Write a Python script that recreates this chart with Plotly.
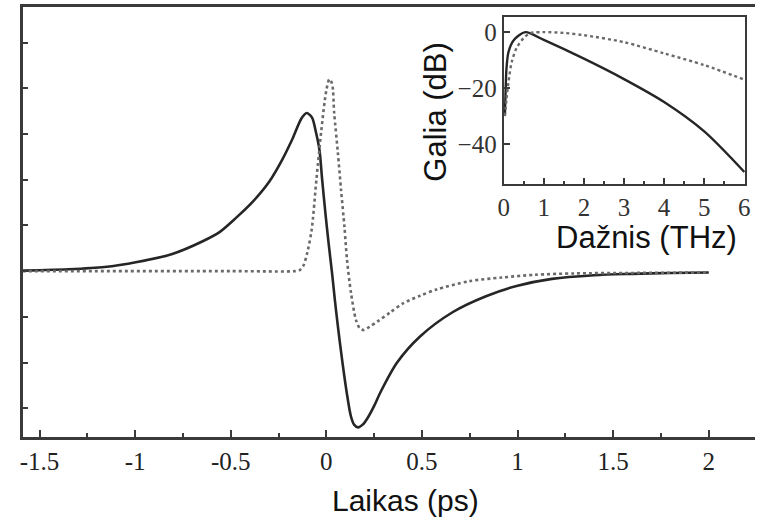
import plotly.graph_objects as go

# Main panel: time (ps) vs. signal (arb. units, tick spacing = 1)
t_solid = [-1.588, -1.5, -1.35, -1.16, -0.99, -0.81, -0.644, -0.557, -0.474, -0.387, -0.30,
           -0.232, -0.18, -0.129, -0.103, -0.075, -0.055, -0.036, -0.022, -0.005, 0.012,
           0.03, 0.045, 0.06, 0.078, 0.094, 0.11, 0.128, 0.145, 0.166, 0.19, 0.215, 0.25,
           0.283, 0.37, 0.49, 0.66, 0.835, 1.0, 1.18, 1.4, 1.6, 1.8, 2.0]
y_solid = [0.01, 0.02, 0.04, 0.09, 0.2, 0.37, 0.66, 0.86, 1.16, 1.51, 1.95,
           2.43, 2.87, 3.35, 3.46, 3.36, 3.05, 2.65, 2.0, 1.27, 0.6,
           -0.05, -0.65, -1.2, -1.8, -2.3, -2.75, -3.17, -3.36, -3.42, -3.36, -3.22, -2.95,
           -2.65, -2.0, -1.43, -0.9, -0.55, -0.32, -0.17, -0.09, -0.06, -0.04, -0.03]

t_dot = [-1.588, -0.5, -0.16, -0.14, -0.12, -0.1, -0.077, -0.052, -0.026, 0.0, 0.016, 0.03,
         0.041, 0.06, 0.077, 0.095, 0.108, 0.129, 0.155, 0.175, 0.196, 0.225, 0.268, 0.335,
         0.403, 0.49, 0.577, 0.747, 0.918, 1.09, 1.3, 1.6, 2.0]
y_dot = [0.0, 0.0, 0.0, 0.02, 0.12, 0.4, 0.9, 2.0, 3.09, 3.96, 4.2, 4.1,
         3.46, 2.6, 1.77, 0.95, 0.25, -0.48, -1.07, -1.25, -1.29, -1.22, -1.1, -0.9,
         -0.7, -0.54, -0.4, -0.22, -0.14, -0.08, -0.05, -0.04, -0.03]

# Inset: frequency (THz) vs. gain (dB)
f_solid = [0.03, 0.05, 0.07, 0.12, 0.25, 0.54, 1.0, 2.0, 3.0, 4.0, 5.0, 6.0]
g_solid = [-29.6, -20, -12.9, -7.1, -2.9, 0.0, -2.8, -9.5, -16.8, -25.0, -35.5, -50.0]

f_dot = [0.03, 0.07, 0.12, 0.2, 0.32, 0.5, 0.66, 1.0, 1.5, 2.0, 3.0, 4.0, 5.0, 6.0]
g_dot = [-30, -24, -17.9, -10.7, -5.7, -2.1, -0.4, 0.0, -0.3, -1.1, -3.6, -7.6, -11.8, -17.0]

main_xticks = [-1.5, -1, -0.5, 0, 0.5, 1, 1.5, 2]
main_xlabels = ["-1.5", "-1", "-0.5", "0", "0.5", "1", "1.5", "2"]
inset_xticks = [0, 1, 2, 3, 4, 5, 6]
inset_yticks = [0, -20, -40]

W, H = 760, 520
frame = "#3a3a3a"
serif = "Times New Roman, Liberation Serif, serif"
sans = "Arial, Liberation Sans, sans-serif"

fig = go.Figure()
fig.add_trace(go.Scatter(x=t_solid, y=y_solid, mode="lines",
                         line=dict(color="#262626", width=2.6, shape="spline", smoothing=0.8),
                         xaxis="x", yaxis="y", hoverinfo="skip"))
fig.add_trace(go.Scatter(x=t_dot, y=y_dot, mode="lines",
                         line=dict(color="#6a6a6a", width=2.6, dash="3px,3px", shape="spline", smoothing=0.8),
                         xaxis="x", yaxis="y", hoverinfo="skip"))
fig.add_trace(go.Scatter(x=f_solid, y=g_solid, mode="lines",
                         line=dict(color="#262626", width=2.4, shape="spline", smoothing=0.8),
                         xaxis="x2", yaxis="y2", hoverinfo="skip"))
fig.add_trace(go.Scatter(x=f_dot, y=g_dot, mode="lines",
                         line=dict(color="#6a6a6a", width=2.4, dash="3px,3px", shape="spline", smoothing=0.8),
                         xaxis="x2", yaxis="y2", hoverinfo="skip"))

fig.update_layout(
    width=W, height=H,
    margin=dict(l=0, r=0, t=0, b=0),
    paper_bgcolor="white", plot_bgcolor="white",
    showlegend=False,
    xaxis=dict(domain=[17 / W, 1.0], range=[-1.588, 2.242], anchor="y",
               showline=True, linecolor=frame, linewidth=2.5, mirror=True,
               showgrid=False, zeroline=False,
               ticks="inside", ticklen=7, tickwidth=2, tickcolor=frame,
               tickvals=main_xticks, ticktext=main_xlabels,
               minor=dict(ticks="inside", ticklen=4, tickwidth=2, tickcolor=frame, dtick=0.25, tick0=0),
               tickfont=dict(family=serif, size=25, color="#222"),
               fixedrange=True),
    yaxis=dict(domain=[1 - 437 / H, 1 - 7 / H], range=[-3.63, 5.78], anchor="x",
               showline=True, linecolor=frame, linewidth=2.5, mirror=False,
               showgrid=False, zeroline=False,
               ticks="inside", ticklen=5, tickwidth=2, tickcolor=frame,
               tickmode="linear", tick0=0, dtick=1, showticklabels=False,
               fixedrange=True),
    xaxis2=dict(domain=[505 / W, 750 / W], range=[0, 6.02], anchor="y2",
                showline=True, linecolor=frame, linewidth=2, mirror=True,
                showgrid=False, zeroline=False,
                ticks="inside", ticklen=6, tickwidth=2, tickcolor=frame,
                tickvals=inset_xticks,
                minor=dict(ticks="inside", ticklen=3, tickwidth=2, tickcolor=frame, dtick=0.5, tick0=0),
                tickfont=dict(family=serif, size=25, color="#333"),
                fixedrange=True),
    yaxis2=dict(domain=[1 - 184 / H, 1 - 17 / H], range=[-54.3, 5.4], anchor="x2",
                showline=True, linecolor=frame, linewidth=2, mirror=True,
                showgrid=False, zeroline=False,
                ticks="inside", ticklen=6, tickwidth=2, tickcolor=frame,
                tickvals=inset_yticks,
                tickfont=dict(family=serif, size=25, color="#333"),
                fixedrange=True),
    annotations=[
        dict(text="Laikas (ps)", x=405 / W, y=1 - 500 / H, xref="paper", yref="paper",
             showarrow=False, font=dict(family=sans, size=30, color="#111"),
             xanchor="center", yanchor="middle"),
        dict(text="Dažnis (THz)", x=650 / W, y=1 - 238 / H, xref="paper", yref="paper",
             showarrow=False, font=dict(family=sans, size=31, color="#111"),
             xanchor="center", yanchor="middle"),
        dict(text="Galia (dB)", x=435 / W, y=1 - 112 / H, xref="paper", yref="paper",
             showarrow=False, textangle=-90, font=dict(family=sans, size=31, color="#111"),
             xanchor="center", yanchor="middle"),
    ],
)

fig.write_html("out.html")
